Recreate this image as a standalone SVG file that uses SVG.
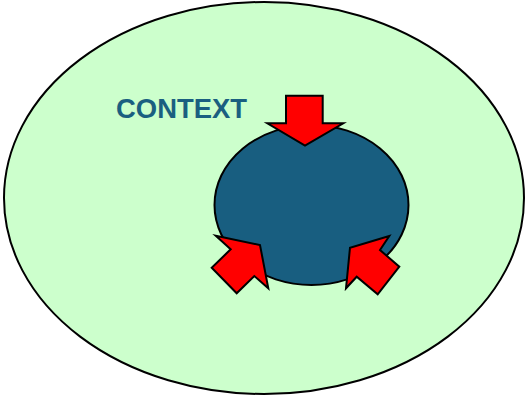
<svg xmlns="http://www.w3.org/2000/svg" width="526" height="398" viewBox="0 0 526 398">
  <style>
    .outline { stroke: #000; stroke-width: 2; }
    .arrow { fill: #ff0000; stroke: #000; stroke-width: 2; stroke-linejoin: miter; }
    .label { font-family: "Liberation Sans", Arial, sans-serif; font-weight: bold; font-size: 28px; fill: #1a5f80; }
  </style>
  <rect width="526" height="398" fill="#ffffff"/>
  <!-- surrounding context -->
  <g id="context">
    <ellipse class="outline" cx="264" cy="198" rx="260" ry="196" fill="#ccffcc"/>
    <text class="label" x="116" y="118" textLength="131" lengthAdjust="spacingAndGlyphs">CONTEXT</text>
  </g>
  <!-- inner system -->
  <g id="system">
    <ellipse class="outline" cx="311.5" cy="205" rx="97" ry="80" fill="#185e80"/>
  </g>
  <!-- influences pressing in on the system -->
  <g id="connectors">
    <polygon class="arrow" points="286,95.7 322.7,95.7 322.7,123.3 343.3,123.3 305,145.7 267.3,123.3 286,123.3"/>
    <polygon class="arrow" points="215.7,235.7 260,245 268.3,288.3 254.3,276 236.7,293.3 211.7,267.7 230.7,249.3"/>
    <polygon class="arrow" points="389.3,236 350,247.7 346,288.3 356.7,276.7 377.7,294.3 399.3,266.7 380,250"/>
  </g>
</svg>
